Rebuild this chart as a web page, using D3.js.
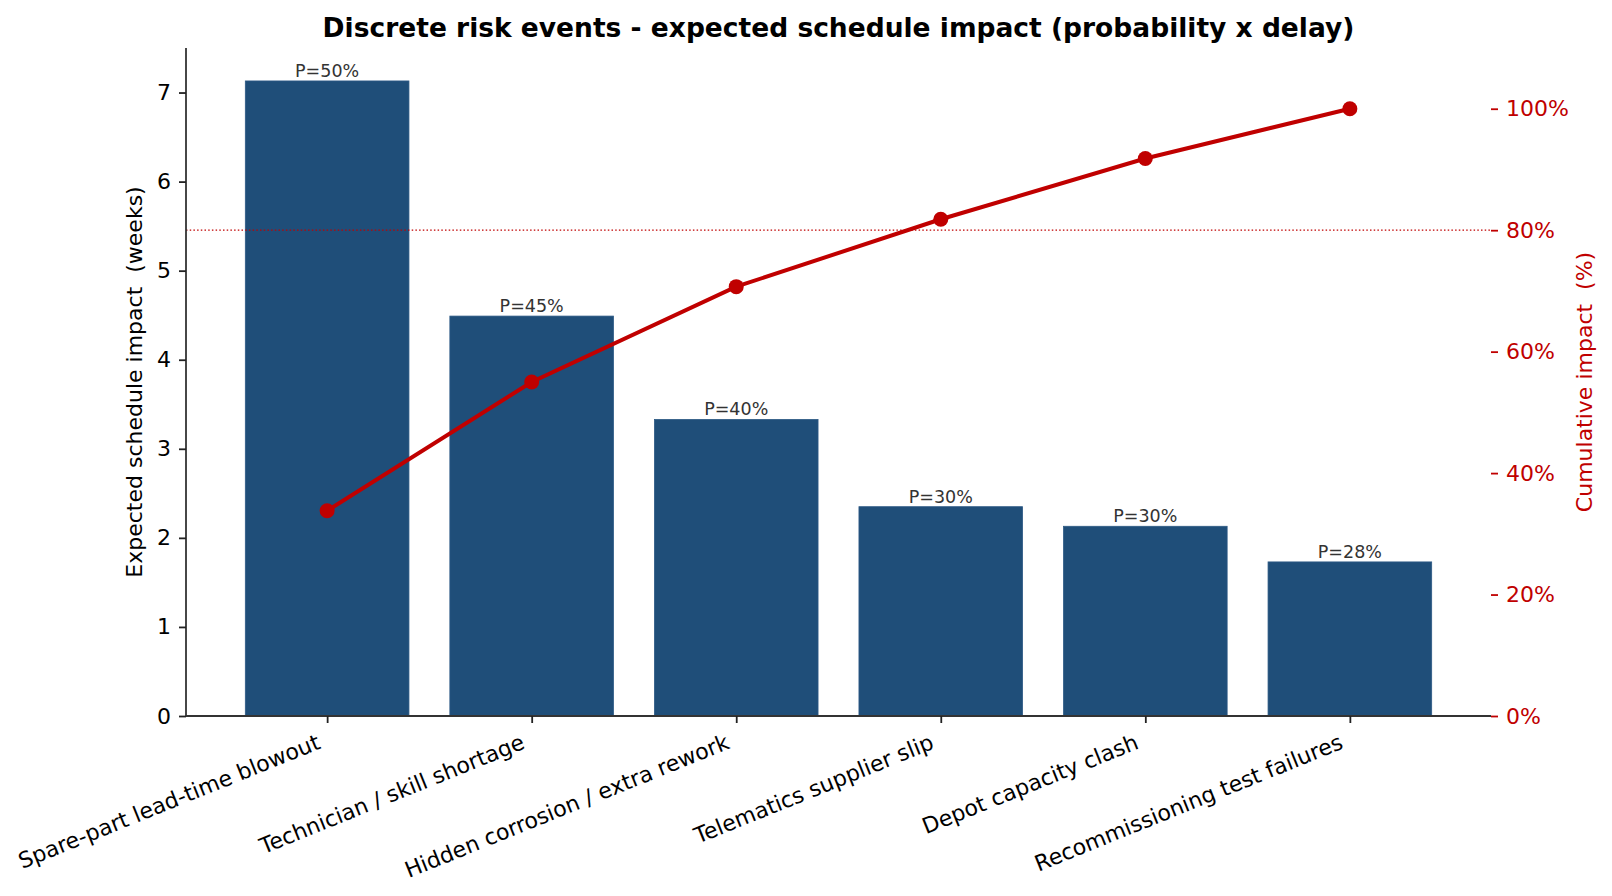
<!DOCTYPE html>
<html><head><meta charset="utf-8">
<script src="https://cdn.jsdelivr.net/npm/d3@7"></script>
<style>body{margin:0;background:#fff;} text{font-family:"DejaVu Sans",sans-serif;}</style>
</head><body>
<svg id="c" width="1612" height="896"></svg>
<script>
const categories = ["Spare-part lead-time blowout","Technician / skill shortage","Hidden corrosion / extra rework","Telematics supplier slip","Depot capacity clash","Recommissioning test failures"];
const impactWeeks = [7.13, 4.49, 3.33, 2.35, 2.13, 1.73];
const probLabels = ["P=50%","P=45%","P=40%","P=30%","P=30%","P=28%"];
const cumulativePct = [33.8, 55.0, 70.7, 81.8, 91.8, 100];
const leftTicks = [0,1,2,3,4,5,6,7];
const rightTicks = [0,20,40,60,80,100];
const threshold = 80;

const svg = d3.select("#c");
const L = 186, R = 1491, T = 48, B = 716;
const barColor = "#1f4e79", red = "#c00000";
const FS = 22;

const x = d3.scaleLinear().domain([-0.69, 5.69]).range([L, R]);
const y = d3.scaleLinear().domain([0, 7.5]).range([B, T]);
const y2 = d3.scaleLinear().domain([0, 110]).range([B, T]);
const bw = x(0.8) - x(0);

// bars
svg.selectAll("rect.bar").data(impactWeeks).enter().append("rect")
  .attr("x", (d,i)=>x(i)-bw/2).attr("width", bw)
  .attr("y", d=>y(d)).attr("height", d=>B-y(d))
  .attr("fill", barColor).attr("stroke","#2d5a85").attr("stroke-width",0.8);

svg.selectAll("text.pl").data(probLabels).enter().append("text")
  .attr("x",(d,i)=>x(i)).attr("y",(d,i)=>y(impactWeeks[i])-4)
  .attr("text-anchor","middle").attr("font-size",17.5).attr("fill","#333").text(d=>d);

// threshold
svg.append("line").attr("x1",L).attr("x2",R).attr("y1",y2(threshold)).attr("y2",y2(threshold))
  .attr("stroke",red).attr("stroke-width",1.3).attr("stroke-dasharray","1.5,2.2");

// cumulative line
const line = d3.line().x((d,i)=>x(i)).y(d=>y2(d));
svg.append("path").datum(cumulativePct).attr("d",line).attr("fill","none")
  .attr("stroke",red).attr("stroke-width",4);
svg.selectAll("circle.pt").data(cumulativePct).enter().append("circle")
  .attr("cx",(d,i)=>x(i)).attr("cy",d=>y2(d)).attr("r",7.5).attr("fill",red);

// left axis
const gl = svg.append("g").attr("transform",`translate(${L},0)`)
  .call(d3.axisLeft(y).tickValues(leftTicks).tickSize(7).tickPadding(8).tickFormat(d3.format("d")));
gl.select(".domain").attr("stroke","#333").attr("stroke-width",1.8).attr("d",`M0,${B}V${T}`);
gl.selectAll(".tick line").attr("stroke","#222").attr("stroke-width",1.8);
gl.selectAll(".tick text").attr("font-size",FS).attr("fill","#000").attr("font-family","DejaVu Sans");

// right axis
const gr = svg.append("g").attr("transform",`translate(${R},0)`)
  .call(d3.axisRight(y2).tickValues(rightTicks).tickSize(7).tickPadding(8).tickFormat(d=>d+"%"));
gr.select(".domain").remove();
gr.selectAll(".tick line").attr("stroke",red).attr("stroke-width",1.8);
gr.selectAll(".tick text").attr("font-size",FS).attr("fill",red).attr("font-family","DejaVu Sans");

// bottom axis
const gb = svg.append("g").attr("transform",`translate(0,${B})`)
  .call(d3.axisBottom(x).tickValues(d3.range(categories.length)).tickSize(7).tickPadding(4).tickFormat(i=>categories[i]));
gb.select(".domain").attr("stroke","#333").attr("stroke-width",1.8).attr("d",`M${L},0H${R}`);
gb.selectAll(".tick line").attr("stroke","#222").attr("stroke-width",1.8);
gb.selectAll(".tick text").attr("font-size",FS).attr("fill","#000").attr("font-family","DejaVu Sans")
  .attr("text-anchor","end").attr("dy",null).attr("y",0)
  .attr("transform","translate(-6,32) rotate(-22)");

// titles
svg.append("text").attr("x",(L+R)/2).attr("y",37).attr("text-anchor","middle")
  .attr("font-size",26.5).attr("font-weight","bold").text("Discrete risk events - expected schedule impact (probability x delay)");
svg.append("text").attr("transform",`translate(142,${(T+B)/2}) rotate(-90)`).attr("text-anchor","middle")
  .attr("font-size",FS).text("Expected schedule impact\u00a0 (weeks)");
svg.append("text").attr("transform",`translate(1592,${(T+B)/2}) rotate(-90)`).attr("text-anchor","middle")
  .attr("font-size",FS).attr("fill",red).text("Cumulative impact\u00a0 (%)");
</script>
</body></html>
